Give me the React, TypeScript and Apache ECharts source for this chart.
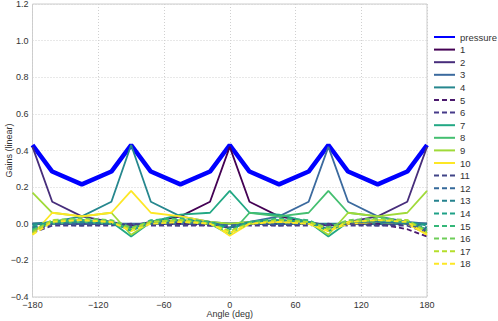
import React, { useEffect, useRef } from "react";
import * as echarts from "echarts";

const angles = [-180, -162, -135, -108, -90, -72, -45, -18, 0, 18, 45, 72, 90, 108, 135, 162, 180];
const xTicks = [-180, -120, -60, 0, 60, 120, 180];
const yTicks = [-0.4, -0.2, 0, 0.2, 0.4, 0.6, 0.8, 1.0, 1.2];

const pressure = [0.43, 0.285, 0.215, 0.285, 0.43, 0.285, 0.215, 0.285, 0.43, 0.285, 0.215, 0.285, 0.43, 0.285, 0.215, 0.285, 0.43];
const g1 = [0, 0, 0, 0, -0.01, 0.01, 0.04, 0.12, 0.42, 0.12, 0.04, 0.01, -0.01, 0, 0, 0, 0];
const g2 = [0.42, 0.12, 0.04, 0.01, -0.01, 0, 0, 0, 0, 0, 0, 0, -0.01, 0.01, 0.04, 0.12, 0.42];
const g3 = [0, 0, 0, 0, 0, 0, 0, 0, 0, 0.01, 0.04, 0.12, 0.42, 0.12, 0.04, 0.01, 0];
const g4 = [0, 0.01, 0.04, 0.12, 0.43, 0.12, 0.04, 0.01, 0, 0, 0, 0, 0, 0, 0, 0, 0];
const g5 = [-0.02, 0, 0, 0, -0.01, 0, 0, -0.01, -0.02, 0, 0, 0, -0.01, 0, 0, -0.03, -0.07];
const g6 = [-0.05, -0.01, -0.01, -0.01, 0, -0.01, -0.01, -0.01, 0, -0.01, -0.01, -0.01, 0, -0.01, -0.01, -0.01, -0.05];
const g7 = [-0.04, 0.01, 0.02, 0.01, -0.07, 0.01, 0.05, 0.06, 0.18, 0.06, 0.05, 0.01, -0.07, 0.01, 0.02, 0.01, -0.04];
const g8 = [-0.03, 0, 0.01, 0, -0.02, 0, 0.01, 0, -0.06, 0.06, 0.04, 0.06, 0.18, 0.06, 0.04, 0, -0.03];
const g9 = [0.17, 0.06, 0.04, 0.06, -0.06, 0.01, 0.02, 0.01, 0, 0.01, 0.02, 0.01, -0.06, 0.06, 0.04, 0.06, 0.18];
const g10 = [-0.06, 0.06, 0.04, 0.06, 0.18, 0.06, 0.04, 0.01, -0.065, 0, 0.01, 0, -0.04, 0, 0.01, 0, -0.06];
const g11 = [-0.04, 0, -0.01, 0, -0.01, 0, -0.01, 0, -0.02, 0, -0.01, 0, -0.01, 0, -0.01, 0, -0.04];
const g12 = [-0.03, 0, 0, 0, -0.02, 0, 0.01, 0, -0.01, 0, 0, 0, -0.02, 0.01, 0.01, 0, -0.03];
const g13 = [-0.02, 0.01, 0.01, 0, -0.03, 0.01, 0.02, 0.01, -0.02, 0.01, 0.02, 0.01, -0.03, 0.01, 0.01, 0, -0.02];
const g14 = [-0.01, 0.01, 0.02, 0.01, -0.04, 0.01, 0.02, 0.01, -0.03, 0.01, 0.02, 0.01, -0.04, 0.01, 0.02, 0.01, -0.01];
const g15 = [-0.03, 0.01, 0.02, 0.01, -0.03, 0.02, 0.03, 0.01, -0.04, 0.01, 0.03, 0.02, -0.03, 0.01, 0.02, 0.01, -0.03];
const g16 = [-0.04, 0.02, 0.03, 0.02, -0.02, 0.01, 0.02, 0, -0.05, 0, 0.02, 0.01, -0.02, 0.02, 0.03, 0.02, -0.04];
const g17 = [-0.05, 0.02, 0.02, 0.01, -0.03, 0.01, 0.02, 0, -0.04, 0, 0.02, 0.01, -0.03, 0.01, 0.02, 0.02, -0.05];
const g18 = [-0.06, 0.01, 0.02, 0.01, -0.04, 0, 0.01, 0, -0.05, 0, 0.01, 0, -0.04, 0.01, 0.02, 0.01, -0.06];

const gains = [g1, g2, g3, g4, g5, g6, g7, g8, g9, g10, g11, g12, g13, g14, g15, g16, g17, g18];
const gainNames = ["1", "2", "3", "4", "5", "6", "7", "8", "9", "10", "11", "12", "13", "14", "15", "16", "17", "18"];
const gainColors = [
  "#440154", "#472d7b", "#3b6a9e", "#26878e", "#4b1a6e", "#463a8a",
  "#22a884", "#44bf70", "#a0da39", "#fde725", "#414487", "#35699a",
  "#26828e", "#1fa187", "#35b779", "#6ece58", "#b5de2b", "#fde725",
];
const gainDashed = [false, false, false, false, true, true, false, false, false, false, true, true, true, true, true, true, true, true];

const fmt = (v: number) => {
  const s = Math.abs(v) < 1e-9 ? "0.0" : v.toFixed(1);
  return s.replace("-", "\u2212");
};
const fmtX = (v: number) => String(v).replace("-", "\u2212");

export default function App() {
  const ref = useRef<HTMLDivElement>(null);
  useEffect(() => {
    if (!ref.current) return;
    const chart = echarts.init(ref.current, undefined, { renderer: "svg" });
    const font = "Liberation Sans, Arial, sans-serif";
    const series: any[] = [
      {
        name: "pressure",
        type: "line",
        data: angles.map((a, i) => [a, pressure[i]]),
        symbol: "none",
        lineStyle: { color: "#0000ff", width: 4.5 },
        itemStyle: { color: "#0000ff" },
        z: 1,
      },
      ...gains.map((g, k) => ({
        name: gainNames[k],
        type: "line",
        data: angles.map((a, i) => [a, g[i]]),
        symbol: "none",
        lineStyle: {
          color: gainColors[k],
          width: 1.8,
          type: gainDashed[k] ? [5, 3] : "solid",
        },
        itemStyle: { color: gainColors[k] },
        z: 2 + k,
      })),
    ];
    chart.setOption({
      animation: false,
      textStyle: { fontFamily: font },
      grid: {
        left: 32.5,
        right: 71,
        top: 4,
        bottom: 24,
        show: true,
        borderColor: "#cccccc",
        borderWidth: 1,
        containLabel: false,
        outerBoundsMode: "none",
      },
      legend: {
        orient: "vertical",
        left: 433,
        top: 32,
        padding: 0,
        itemWidth: 21,
        itemHeight: 10,
        itemGap: 2.6,
        data: ["pressure", ...gainNames],
        itemStyle: { opacity: 0 },
        textStyle: { fontSize: 9.5, lineHeight: 10, color: "#333", fontFamily: font },
      },
      xAxis: {
        type: "value",
        min: -180,
        max: 180,
        interval: 60,
        name: "Angle (deg)",
        nameLocation: "middle",
        nameGap: 12.5,
        nameMoveOverlap: false,
        nameTextStyle: { fontSize: 9, color: "#333", fontFamily: font, verticalAlign: "top" },
        axisLine: { show: false },
        axisTick: { show: false },
        axisLabel: {
          fontSize: 9,
          lineHeight: 8,
          color: "#333",
          margin: 4,
          fontFamily: font,
          formatter: (v: number) => (xTicks.includes(v) ? fmtX(v) : ""),
        },
        splitLine: { show: true, lineStyle: { color: "#d0d0d0", type: [1, 2], width: 1 } },
      },
      yAxis: {
        type: "value",
        min: -0.4,
        max: 1.2,
        interval: 0.2,
        name: "Gains (linear)",
        nameLocation: "middle",
        nameGap: 19,
        nameMoveOverlap: false,
        nameTextStyle: { fontSize: 9, color: "#333", fontFamily: font },
        axisLine: { show: false },
        axisTick: { show: false },
        axisLabel: {
          fontSize: 9,
          lineHeight: 8,
          color: "#333",
          margin: 4,
          fontFamily: font,
          formatter: (v: number) => (yTicks.some((t) => Math.abs(t - v) < 1e-6) ? fmt(v) : ""),
        },
        splitLine: { show: true, lineStyle: { color: "#d0d0d0", type: [1, 2], width: 1 } },
      },
      series,
    });
    return () => chart.dispose();
  }, []);
  return <div ref={ref} style={{ width: 498, height: 321, position: "absolute", left: 0, top: 0 }} />;
}
